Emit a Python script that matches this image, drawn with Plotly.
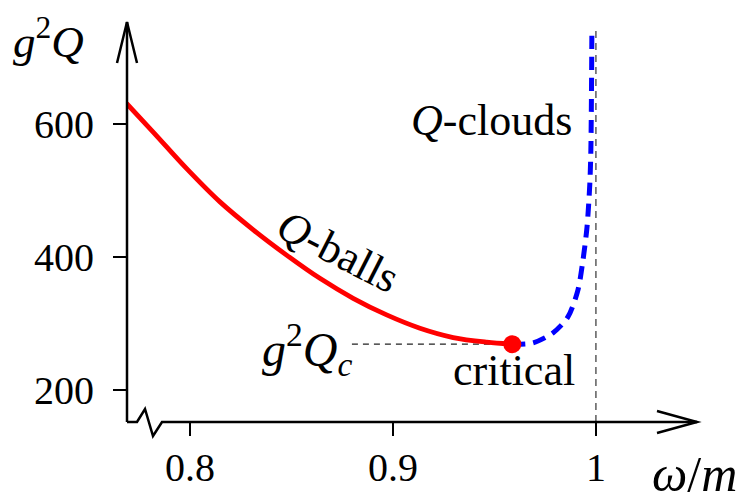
import plotly.graph_objects as go

# ---- data ----
qball_w = [0.7688, 0.7819, 0.7984, 0.8148, 0.8312, 0.8476, 0.8640, 0.8804,
           0.8969, 0.9133, 0.9297, 0.9462, 0.9588]
qball_q = [631, 588, 533, 483, 441, 403, 368, 338, 313, 293, 279, 272, 269]

qcloud_w = [0.9588, 0.9690, 0.9788, 0.9862, 0.9911, 0.9936, 0.9956, 0.9970, 0.9975, 0.9980]
qcloud_q = [269, 271, 286, 310, 350, 395, 445, 511, 561, 737]

crit_w = [0.9588]
crit_q = [269]

qc_line_w = [0.8798, 0.9588]
vert_w = [1.0, 1.0]
vert_q = [152, 743]

x_ticks = [0.8, 0.9, 1.0]
x_tick_text = ["0.8", "0.9", "1"]
y_ticks = [200, 400, 600]
y_tick_text = ["200", "400", "600"]

# ---- layout geometry (page body adds an 8px offset) ----
OFF = 8
W, H = 750 - OFF, 504 - OFF
ML, MT = 127 - OFF, 22 - OFF
PW, PH = 568, 400
MR, MB = W - ML - PW, H - MT - PH
XR = [0.769, 0.769 + PW / 2030.0]
YR = [152, 152 + PH * 200.0 / 133.0]

FONT = "Liberation Serif, Times New Roman, serif"


def px(x):  # reference-window pixel -> paper fraction
    return (x - 127) / PW


def py(y):
    return (422 - y) / PH


fig = go.Figure()

fig.add_trace(go.Scatter(x=qc_line_w, y=[crit_q[0], crit_q[0]], mode="lines",
                         line=dict(color="#222", width=1.2, dash="6px,5px"), hoverinfo="skip"))
fig.add_trace(go.Scatter(x=vert_w, y=vert_q, mode="lines",
                         line=dict(color="#333", width=1.2, dash="7px,5px"), hoverinfo="skip"))
fig.add_trace(go.Scatter(x=qcloud_w, y=qcloud_q, mode="lines",
                         line=dict(color="#0000ff", width=5, dash="13px,8px", shape="spline", smoothing=0.8),
                         hoverinfo="skip"))
fig.add_trace(go.Scatter(x=qball_w, y=qball_q, mode="lines",
                         line=dict(color="#ff0000", width=4.8, shape="spline", smoothing=1.0),
                         hoverinfo="skip"))
fig.add_trace(go.Scatter(x=crit_w, y=crit_q, mode="markers",
                         marker=dict(color="#ff0000", size=18), hoverinfo="skip"))

# axes with arrows and the break zigzag (pixel paths anchored at the plot corner)
common = dict(xref="paper", yref="paper", xsizemode="pixel", ysizemode="pixel",
              xanchor=0, yanchor=0, line=dict(color="black", width=2.5), layer="above")
fig.add_shape(type="path", path="M0,0 L10,0 L18,13 L26,-14 L35,0 L570,0", **common)
fig.add_shape(type="path", path="M530,11 L570,0 L530,-11", **common)
fig.add_shape(type="path", path="M0,0 L0,400", **common)
fig.add_shape(type="path", path="M-10,359 L0,400 L10,359", **common)

ann = [
    dict(text="<i>g</i><sup>2</sup><i>Q</i>", x=px(48), y=py(38), size=45),
    dict(text="<i>ω</i>/<i>m</i>", x=px(694), y=py(474), size=50),
    dict(text="<i>Q</i>-clouds", x=px(491), y=py(120), size=44),
    dict(text="critical", x=px(514), y=py(370), size=44),
    dict(text="<i>Q</i>-balls", x=px(338), y=py(252), size=44, angle=27),
]
for a in ann:
    fig.add_annotation(text=a["text"], x=a["x"], y=a["y"], xref="paper", yref="paper",
                       xanchor="center", yanchor="middle",
                       showarrow=False, textangle=a.get("angle", 0),
                       font=dict(family=FONT, size=a["size"], color="black"))
fig.add_annotation(text="<i>g</i><sup>2</sup><i>Q</i><sub><i>c</i></sub>", x=px(354), y=py(349),
                   xref="paper", yref="paper", xanchor="right", yanchor="middle", showarrow=False,
                   font=dict(family=FONT, size=48, color="black"))

fig.update_layout(
    width=W, height=H, margin=dict(l=ML, r=MR, t=MT, b=MB, autoexpand=False),
    plot_bgcolor="white", paper_bgcolor="white", showlegend=False,
    font=dict(family=FONT, size=40, color="black"),
    xaxis=dict(range=XR, showgrid=False, zeroline=False, showline=False, automargin=False,
               tickmode="array", tickvals=x_ticks, ticktext=x_tick_text,
               ticks="outside", ticklen=13, tickwidth=1.5, tickcolor="black",
               ticklabelstandoff=-3, fixedrange=True),
    yaxis=dict(range=YR, showgrid=False, zeroline=False, showline=False, automargin=False,
               tickmode="array", tickvals=y_ticks, ticktext=y_tick_text,
               ticks="outside", ticklen=13, tickwidth=1.5, tickcolor="black",
               ticklabelstandoff=11, fixedrange=True),
)

fig.write_html("out.html")
